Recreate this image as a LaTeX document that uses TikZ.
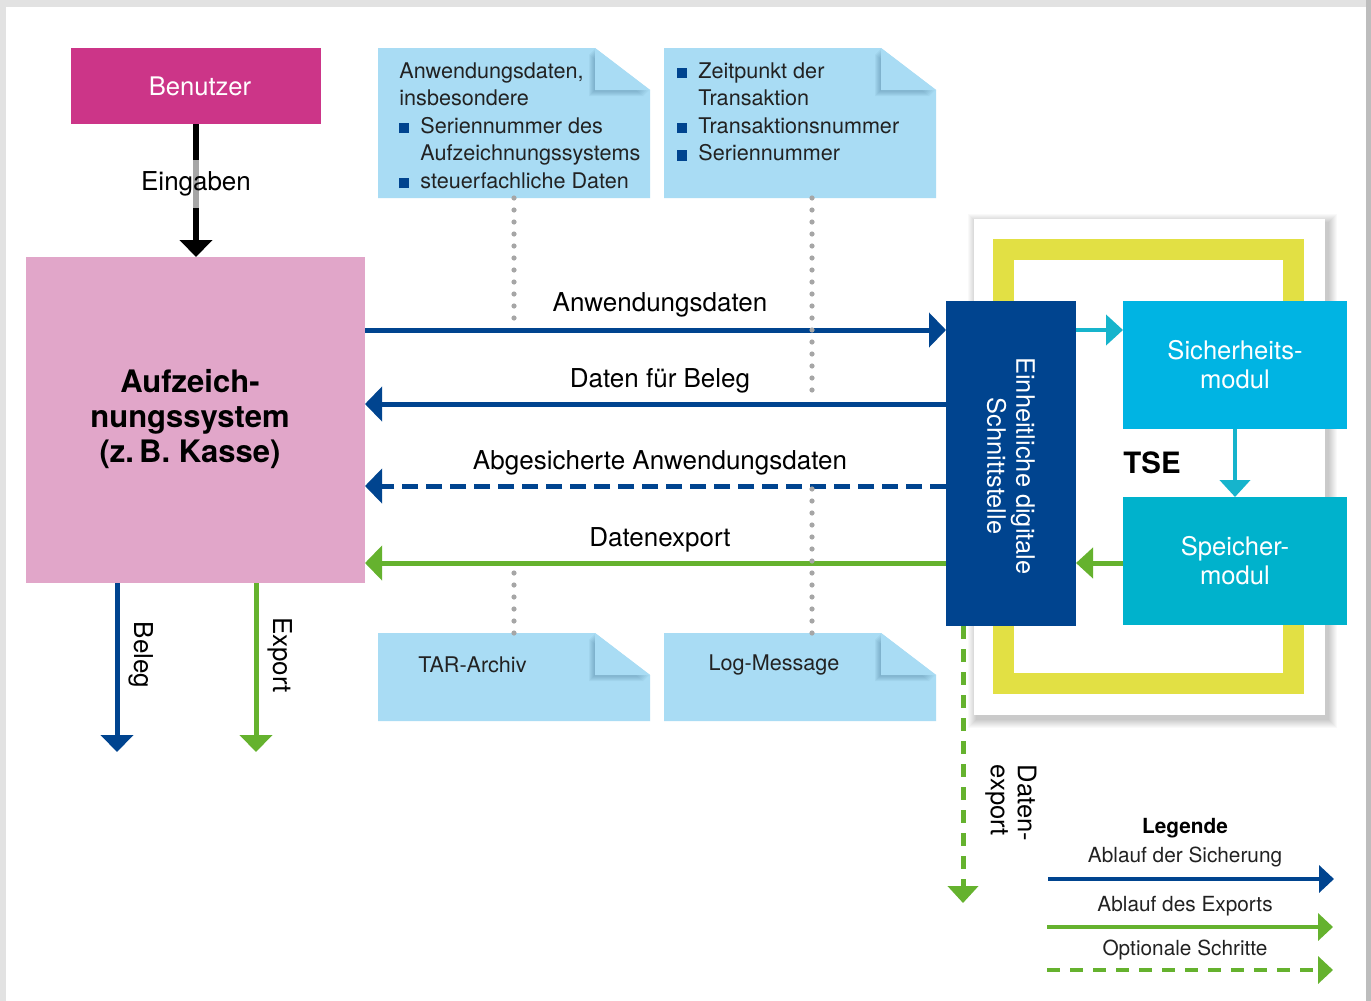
\documentclass[tikz,border=0pt]{standalone}
\usepackage{fontspec}
\setmainfont{TeX Gyre Heros}
\usetikzlibrary{arrows.meta,calc}
\definecolor{magen}{HTML}{CC3588}
\definecolor{pinkc}{HTML}{E1A6C9}
\definecolor{notecol}{HTML}{A9DCF4}
\definecolor{foldsh}{HTML}{3C6C8C}
\definecolor{dblue}{HTML}{00448F}
\definecolor{greenc}{HTML}{65B22E}
\definecolor{cyana}{HTML}{00B4E3}
\definecolor{cyanb}{HTML}{00B2CC}
\definecolor{cyanline}{HTML}{16B4CC}
\definecolor{yellowc}{HTML}{E2E044}
\definecolor{dotgray}{HTML}{A6A6A6}
\definecolor{framegray}{HTML}{E2E2E2}
\definecolor{framedark}{HTML}{BDBDBD}
\definecolor{notetxt}{HTML}{222222}
\newcommand{\tsenote}[1]{%
  \fill[notecol] (#1.north west) -- ($(#1.north east)+(-55,0)$) -- ($(#1.north east)+(0,42)$) -- (#1.south east) -- (#1.south west) -- cycle;
  \foreach \k in {1,...,6}{%
    \fill[foldsh, opacity=0.07] ($(#1.north east)+(-55-\k,\k)$) -- ($(#1.north east)+(-55-\k,42+\k)$) -- ($(#1.north east)+(-\k,42+\k)$) -- cycle;}
  \fill[notecol] ($(#1.north east)+(-55,0)$) -- ($(#1.north east)+(-55,42)$) -- ($(#1.north east)+(0,42)$) -- cycle;}
\newcommand{\bul}{\makebox[10.5pt][l]{\textcolor{dblue}{\rule{5pt}{5.2pt}}}}
\newcommand{\ind}{\hspace*{10.5pt}}
\tikzset{
  blk/.style={inner sep=0pt, outer sep=0pt},
  lab/.style={font=\fontsize{13}{15}\selectfont, inner sep=0pt},
  notetext/.style={font=\fontsize{10.8}{13.75}\selectfont, align=left, inner sep=0pt, text=notetxt},
  legtext/.style={font=\fontsize{10.4}{12}\selectfont, inner sep=0pt, text=notetxt},
  mainarrow/.style={line width=2.5pt, -{Triangle[width=17pt,length=8.5pt]}},
  smallarrow/.style={line width=2.2pt, -{Triangle[width=15pt,length=8.5pt]}},
  legarrow/.style={line width=2pt, -{Triangle[width=13.5pt,length=7.5pt]}},
  dotline/.style={draw=dotgray, line width=2.6pt, line cap=round, dash pattern=on 0pt off 6pt},
  yframe/.style={draw=yellowc, line width=10.5pt},
}
\begin{document}
\begin{tikzpicture}[x=0.5pt,y=-0.5pt]
\useasboundingbox (0,0) rectangle (1371,1001);
\fill[framegray] (0,0) rectangle (1371,1001);
\fill[white] (6,7) rectangle (1366,1001);
\fill[framedark] (1366,0) rectangle (1371,1001);

% ---- Benutzer and Aufzeichnungssystem
\node[blk, fill=magen, minimum width=125pt, minimum height=38pt, text=white,
      font=\fontsize{12.8}{15}\selectfont] (ben) at (196,86) {\hspace*{4pt}Benutzer};
\node[blk, fill=pinkc, minimum width=169.5pt, minimum height=163pt] (afs) at (195.5,420) {};
\node[blk, align=center, font=\bfseries\fontsize{15.5}{17.5}\selectfont] (afst) at (190,419)
  {Aufzeich-\\nungssystem\\(z.\,B. Kasse)};
\draw[line width=2.8pt, -{Triangle[width=16pt,length=8.5pt]}] (ben.south) -- (ben.south |- afs.north);
\node[lab, fill=white, fill opacity=0.65, text opacity=1, minimum height=24pt] (eing) at (196,184) {Eingaben};

% ---- notes
\node[blk, minimum width=136pt, minimum height=75pt] (n1) at (514,123) {};
\node[blk, minimum width=136pt, minimum height=75pt] (n2) at (800,123) {};
\node[blk, minimum width=136pt, minimum height=44pt] (n3) at (514,677) {};
\node[blk, minimum width=136pt, minimum height=44pt] (n4) at (800,677) {};
\tsenote{n1}
\tsenote{n2}
\tsenote{n3}
\tsenote{n4}
\node[notetext, anchor=north west] (t1) at (399,62)
  {Anwendungsdaten,\\insbesondere\\\bul Seriennummer des\\\ind Aufzeichnungssystems\\\bul steuerfachliche Daten};
\node[notetext, anchor=north west] (t2) at (677,62)
  {\bul Zeitpunkt der\\\ind Transaktion\\\bul Transaktionsnummer\\\bul Seriennummer};
\node[notetext, anchor=west] (t3) at (418,665) {TAR-Archiv};
\node[notetext] (t4) at (774,665) {Log-Message};

% ---- TSE block
\foreach \k in {1,...,9}{%
  \fill[black, opacity=0.022] (974-\k+3,219-\k+4) rectangle (1325+\k+3,715+\k+4);}
\fill[white] (974,219) rectangle (1325,715);
\draw[yframe] (1003.5,305) -- (1003.5,249.5) -- (1293.5,249.5) -- (1293.5,305);
\draw[yframe] (1003.5,620) -- (1003.5,683.5) -- (1293.5,683.5) -- (1293.5,620);
\node[blk, fill=dblue, minimum width=65pt, minimum height=162.5pt] (iface) at (1011,463.5) {};
\node[blk, rotate=-90, align=center, text=white, font=\fontsize{12.7}{14.5}\selectfont] (ifacet) at (1011,466)
  {Einheitliche digitale\\Schnittstelle};
\node[blk, fill=cyana, minimum width=112pt, minimum height=64pt, text=white, align=center,
      font=\fontsize{12.8}{14.5}\selectfont] (sich) at (1235,365) {Sicherheits-\\modul};
\node[blk, fill=cyanb, minimum width=112pt, minimum height=64pt, text=white, align=center,
      font=\fontsize{12.8}{14.5}\selectfont] (speich) at (1235,561) {Speicher-\\modul};
\node[blk, font=\bfseries\fontsize{14.7}{16}\selectfont] (tse) at (1152,463) {TSE};
\draw[smallarrow, cyanline] (iface.east |- 0,330) -- (sich.west |- 0,330);
\draw[smallarrow, cyanline] (sich.south) -- (speich.north);
\draw[smallarrow, greenc, line width=2.5pt] (speich.west |- 0,563) -- (iface.east |- 0,563);

% ---- main horizontal flows
\coordinate (y1) at (0,330);
\coordinate (y2) at (0,404);
\coordinate (y3) at (0,486);
\coordinate (y4) at (0,563);
\draw[mainarrow, dblue] (afs.east |- y1) -- (iface.west |- y1);
\draw[mainarrow, dblue] (iface.west |- y2) -- (afs.east |- y2);
\draw[mainarrow, dblue, dash pattern=on 8pt off 4pt] (iface.west |- y3) -- (afs.east |- y3);
\draw[mainarrow, greenc] (iface.west |- y4) -- (afs.east |- y4);
\node[lab] (l1) at (660,305) {Anwendungsdaten};
\node[lab] (l2) at (660,381) {Daten für Beleg};
\node[lab] (l3) at (660,463) {Abgesicherte Anwendungsdaten};
\node[lab] (l4) at (660,540) {Datenexport};

% ---- dotted links from notes
\coordinate (d2) at ([xshift=6pt]n2.south);
\coordinate (d4) at ([xshift=6pt]n4.north);
\draw[dotline] (n1.south) -- (n1.south |- 0,328);
\draw[dotline] (d2) -- (d2 |- 0,398);
\draw[dotline] (n3.north) -- (n3.north |- 0,566);
\draw[dotline] (d4) -- (d4 |- 0,488);

% ---- downward outputs
\coordinate (bel) at (117,752);
\coordinate (exp) at (256,752);
\coordinate (dex) at (963,903);
\draw[mainarrow, dblue, -{Triangle[width=16pt,length=8.5pt]}] (afs.south -| bel) -- (bel);
\draw[mainarrow, greenc, -{Triangle[width=16pt,length=8.5pt]}] (afs.south -| exp) -- (exp);
\node[lab, rotate=-90] (bell) at (141,655) {Beleg};
\node[lab, rotate=-90] (expl) at (280,655) {Export};
\draw[greenc, line width=2.5pt, dash pattern=on 6.5pt off 5pt, -{Triangle[width=15pt,length=8.5pt]}] (iface.south -| dex) -- (dex);
\node[lab, rotate=-90, align=left, font=\fontsize{12.8}{13.5}\selectfont] (dexl) at (1011,803) {Daten-\\export};

% ---- legend
\node[legtext, font=\bfseries\fontsize{10.4}{12}\selectfont, text=black] (leg) at (1185,828) {Legende};
\node[legtext] (lg1) at (1185,857) {Ablauf der Sicherung};
\node[legtext] (lg2) at (1185,906) {Ablauf des Exports};
\node[legtext] (lg3) at (1185,950) {Optionale Schritte};
\coordinate (a1) at (1048,879); \coordinate (b1) at (1334,879);
\coordinate (a2) at (1047,927); \coordinate (b2) at (1333,927);
\coordinate (a3) at (1047,970); \coordinate (b3) at (1333,970);
\draw[legarrow, dblue] (a1) -- (b1);
\draw[legarrow, greenc] (a2) -- (b2);
\draw[legarrow, greenc, dash pattern=on 6.5pt off 5pt] (a3) -- (b3);
\end{tikzpicture}
\end{document}
